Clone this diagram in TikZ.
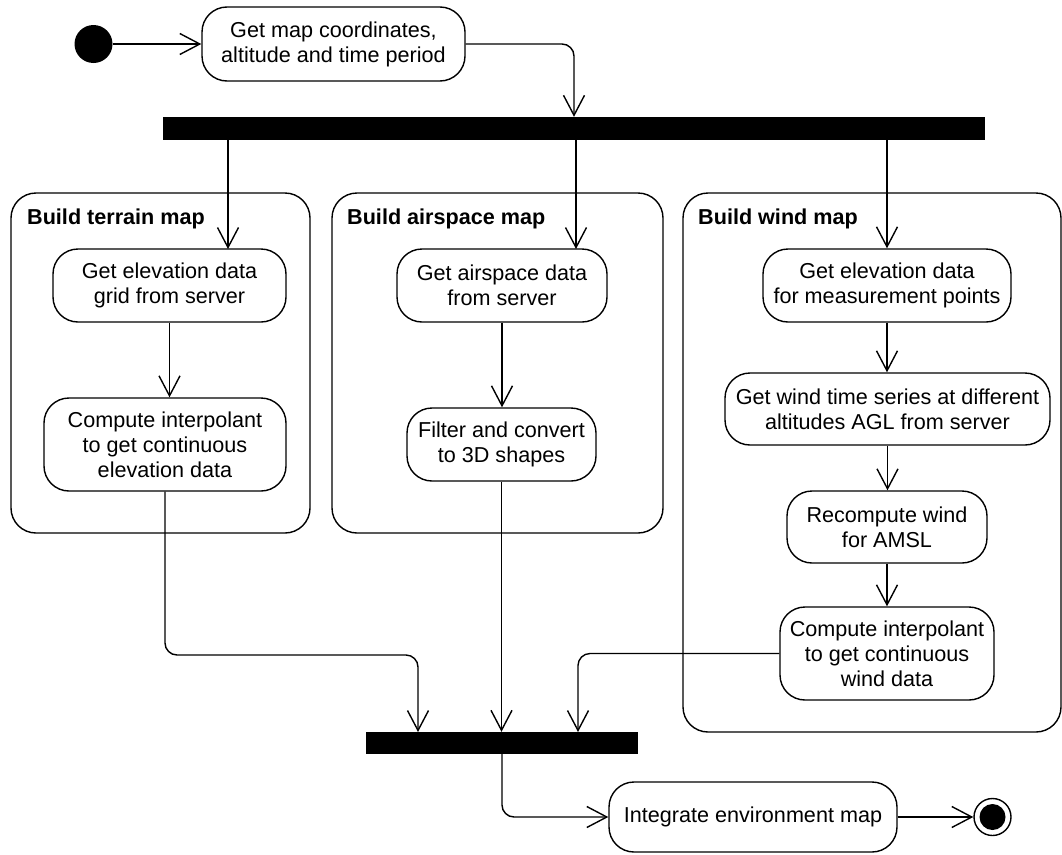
\documentclass[tikz,border=0pt]{standalone}
\usepackage{fontspec}
\setmainfont{Liberation Sans}
\usetikzlibrary{arrows.meta}
\begin{document}
\begin{tikzpicture}[x=1pt,y=-1pt,
  act/.style={draw, line width=1.4pt, rounded corners=25pt, align=center, inner sep=0pt, font=\fontsize{21.6}{25}\selectfont},
  lane/.style={draw, line width=1.4pt, rounded corners=25pt, inner sep=0pt},
  lbl/.style={font=\bfseries\fontsize{21.6}{25}\selectfont, anchor=base west, inner sep=0pt},
  bar/.style={fill=black, inner sep=0pt},
  arr/.style={line width=1.4pt, -{Straight Barb[length=20pt,width=21pt]}},
  conn/.style={arr, rounded corners=12pt}]
\useasboundingbox (0,0) rectangle (1062,854);

% swimlane containers
\node[lane, minimum width=299pt, minimum height=340pt] (lt) at (160.5,363) {};
\node[lane, minimum width=331pt, minimum height=340pt] (la) at (497.5,363) {};
\node[lane, minimum width=378pt, minimum height=539pt] (lw) at (872,462.5) {};
\node[lbl] (ltl) at (27,224) {Build terrain map};
\node[lbl] (lal) at (347,224) {Build airspace map};
\node[lbl] (lwl) at (698,224) {Build wind map};

% start, first action, fork
\node[circle, fill=black, minimum size=38pt, inner sep=0pt] (start) at (93.5,44) {};
\node[act, minimum width=263pt, minimum height=74pt] (n0) at (333.5,44) {Get map coordinates,\\altitude and time period};
\node[bar, minimum width=822pt, minimum height=23pt] (fork) at (574,128.5) {};

% terrain
\node[act, minimum width=233pt, minimum height=73pt] (t1) at (169.5,285.5) {Get elevation data\\grid from server};
\node[act, minimum width=242pt, minimum height=93pt] (t2) at (165,444.5) {Compute interpolant\\to get continuous\\elevation data};

% airspace
\node[act, minimum width=210pt, minimum height=73pt] (a1) at (502,285.5) {Get airspace data\\from server};
\node[act, minimum width=189pt, minimum height=73pt] (a2) at (501.5,444.5) {Filter and convert\\to 3D shapes};

% wind
\node[act, minimum width=248pt, minimum height=73pt] (w1) at (887,285.5) {Get elevation data\\for measurement points};
\node[act, minimum width=325pt, minimum height=72pt] (w2) at (887.5,409) {Get wind time series at different\\altitudes AGL from server};
\node[act, minimum width=200pt, minimum height=72pt] (w3) at (887,527) {Recompute wind\\for AMSL};
\node[act, minimum width=214pt, minimum height=93pt] (w4) at (887,653.5) {Compute interpolant\\to get continuous\\wind data};

% join, final action, end
\node[bar, minimum width=272pt, minimum height=22pt] (join) at (502,743) {};
\node[act, minimum width=288pt, minimum height=70pt] (int) at (753,817) {Integrate environment map};
\node[circle, draw, line width=1.4pt, fill=white, minimum size=37pt, inner sep=0pt] (end) at (992.5,817) {};
\node[circle, fill=black, minimum size=26pt, inner sep=0pt] (endin) at (end) {};

% helper coordinates
\coordinate (t1in) at (228,249);
\coordinate (a1in) at (576,249);
\coordinate (tb) at (418,655);
\coordinate (jt) at (418,732);
\coordinate (jw) at (578,732);

% connectors
\draw[arr] (start.east) -- (n0.west);
\draw[conn] (n0.east) -| (fork.north);
\draw[arr] (fork.south -| t1in) -- (t1in);
\draw[arr] (fork.south -| a1in) -- (a1in);
\draw[arr] (fork.south -| w1.north) -- (w1.north);
\draw[arr] (t1.south) -- (t1.south |- t2.north);
\draw[arr] (a1.south) -- (a1.south |- a2.north);
\draw[arr] (w1.south) -- (w1.south |- w2.north);
\draw[arr] (w2.south) -- (w2.south |- w3.north);
\draw[arr] (w3.south) -- (w3.south |- w4.north);
\draw[conn] (t2.south) |- (tb) -- (jt);
\draw[arr] (a2.south) -- (a2.south |- join.north);
\draw[conn] (w4.west) -| (jw);
\draw[conn] (join.south) |- (int.west);
\draw[arr] (int.east) -- (end.west);
\end{tikzpicture}
\end{document}
